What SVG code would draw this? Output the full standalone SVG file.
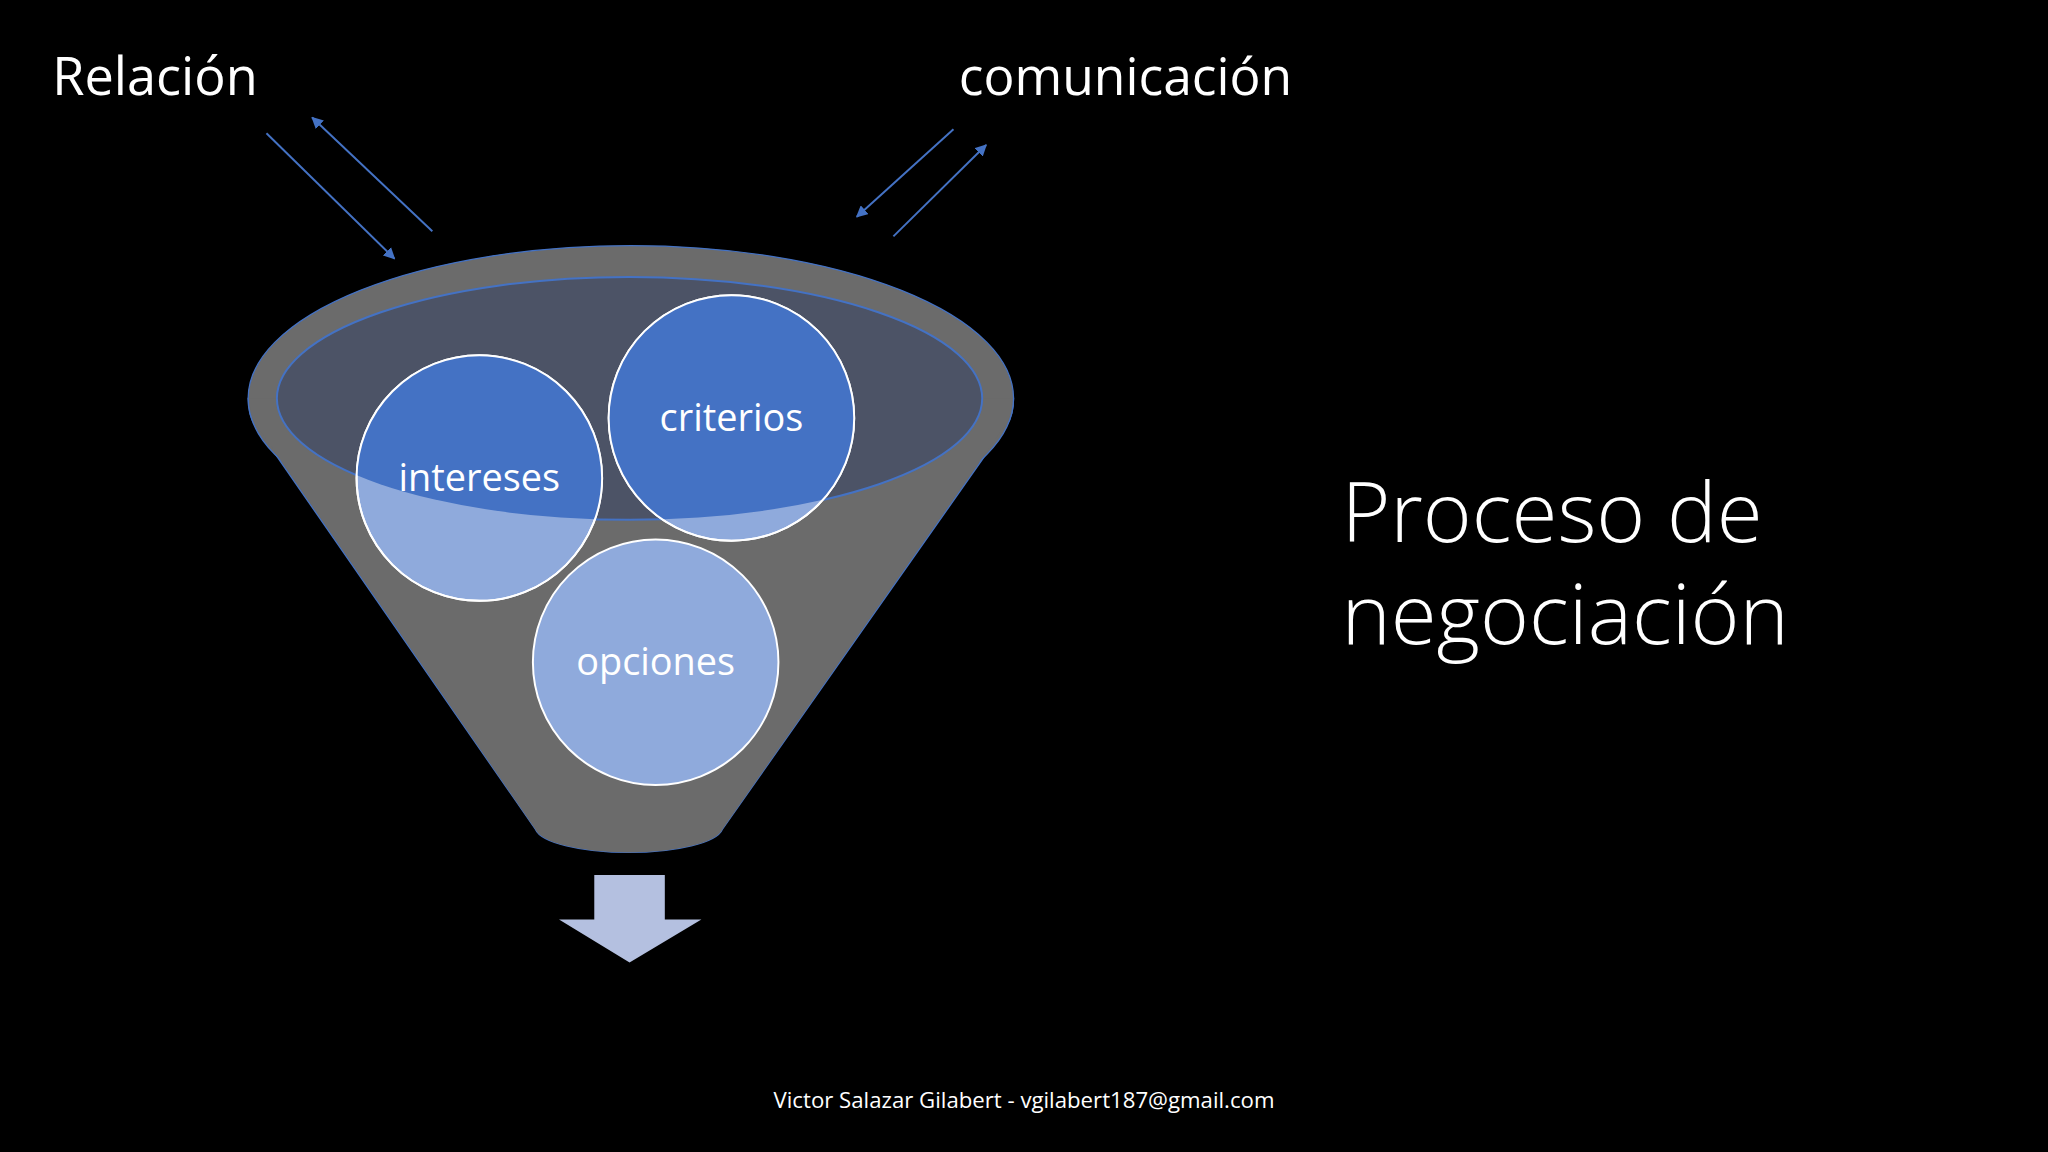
<svg xmlns="http://www.w3.org/2000/svg" width="2048" height="1152" viewBox="0 0 2048 1152">
<style>
.t{font-family:"Open Sans","Liberation Sans",sans-serif;fill:#fff}
.c{stroke:#fff;stroke-width:1.5}
.ln{stroke:#4472c4;stroke-width:1.5;fill:none;marker-end:url(#ah)}
</style>
<defs>
<marker id="ah" viewBox="0 0 10 10" refX="9" refY="5" markerWidth="6" markerHeight="6" orient="auto"><path d="M0,0 L10,5 L0,10 z" fill="#4472c4"/></marker>
<clipPath id="ic"><ellipse cx="482" cy="305" rx="270" ry="93"/></clipPath>
</defs>
<rect width="2048" height="1152" fill="#000"/>
<g transform="scale(1.30612)">
<g id="funnel">
<path d="M190,305 Q190,318 195,325 L410,635 A72,20 0 0 0 553,635 L771,325 Q776,318 776,305 Z" fill="#6b6b6b" stroke="#4472c4" stroke-width="1"/>
<ellipse cx="483" cy="305" rx="293" ry="117" fill="#6b6b6b" stroke="#4472c4" stroke-width="1"/>
<path d="M191,305 Q191,318 196,325 L410,635 A72,20 0 0 0 553,635 L770,325 Q775,318 775,305 Z" fill="#6b6b6b"/>
<ellipse cx="482" cy="305" rx="270" ry="93" fill="#4c5366" stroke="#4472c4" stroke-width="1.5"/>
</g>
<g id="intereses">
<circle cx="367" cy="366" r="94" fill="#8faadc" class="c"/>
<circle cx="367" cy="366" r="94" fill="#4472c4" clip-path="url(#ic)"/>
<circle cx="367" cy="366" r="94" fill="none" class="c"/>
<text x="367" y="376" class="t" font-size="29" text-anchor="middle">intereses</text>
</g>
<g id="criterios">
<circle cx="560" cy="320" r="94" fill="#8faadc" class="c"/>
<circle cx="560" cy="320" r="94" fill="#4472c4" clip-path="url(#ic)"/>
<circle cx="560" cy="320" r="94" fill="none" class="c"/>
<text x="560" y="330" class="t" font-size="29" text-anchor="middle">criterios</text>
</g>
<g id="opciones">
<circle cx="502" cy="507" r="94" fill="#8faadc" class="c"/>
<text x="502" y="517" class="t" font-size="29" text-anchor="middle">opciones</text>
</g>
<g id="down">
<path d="M455,670 H509 V704 H537 L482,737 L428,704 H455 Z" fill="#b4c0e0"/>
</g>
<g id="connectors">
<line x1="204" y1="102" x2="302" y2="198" class="ln"/>
<line x1="331" y1="177" x2="239" y2="90" class="ln"/>
<line x1="730" y1="99" x2="656" y2="166" class="ln"/>
<line x1="684" y1="181" x2="755" y2="111" class="ln"/>
</g>
<g id="labels">
<text x="40" y="73" class="t" font-size="40">Relación</text>
<text x="734" y="73" class="t" font-size="39.5">comunicación</text>
<text x="1027" y="415" class="t" font-size="64" font-weight="300">Proceso de</text>
<text x="1027" y="493" class="t" font-size="64" font-weight="300">negociación</text>
<text x="784" y="848" class="t" font-size="17" text-anchor="middle">Victor Salazar Gilabert - vgilabert187@gmail.com</text>
</g>
</g>
</svg>
